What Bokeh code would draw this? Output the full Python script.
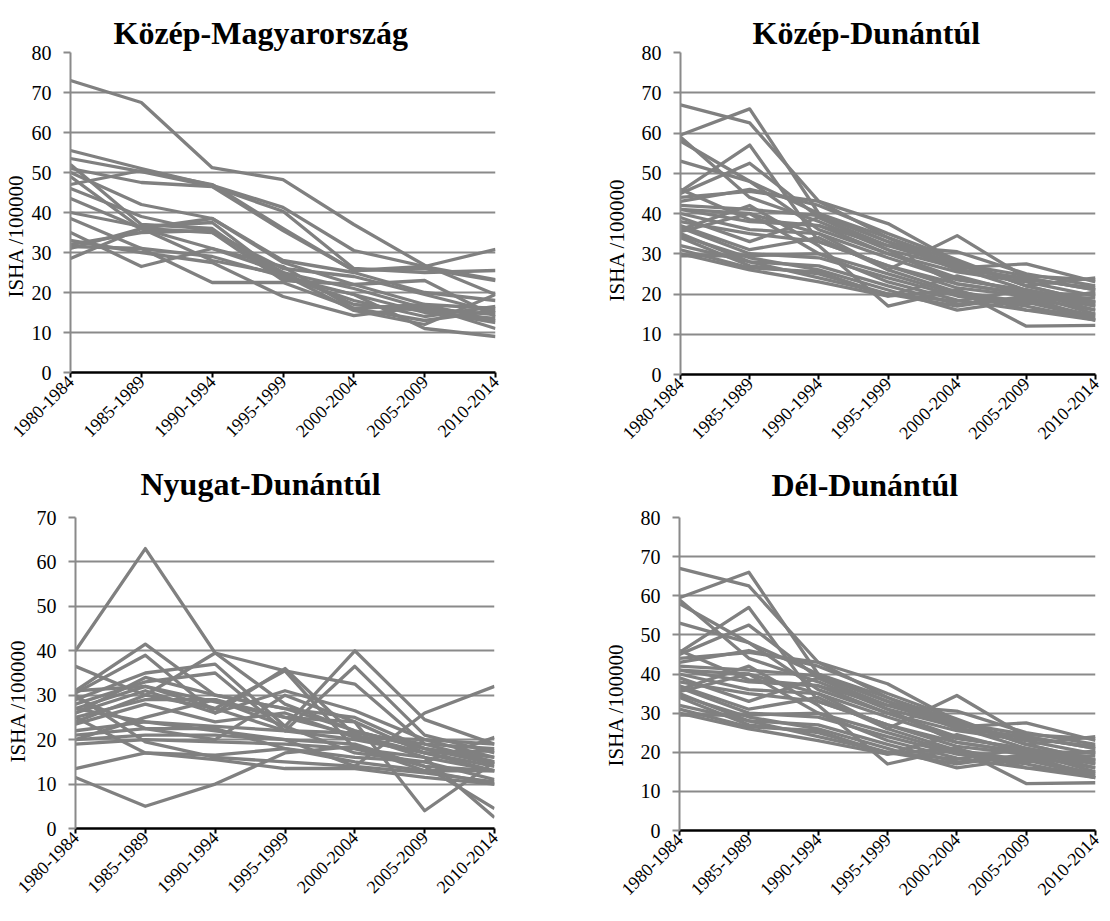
from math import pi
from bokeh.plotting import figure
from bokeh.layouts import column, row
from bokeh.models import Range1d, FixedTicker, Title, LinearAxis
from bokeh.embed import file_html
from bokeh.resources import INLINE

periods = ["1980-1984", "1985-1989", "1990-1994", "1995-1999",
           "2000-2004", "2005-2009", "2010-2014"]

kozep_magyarorszag = [
    [73.0, 67.5, 51.2, 48.2, 37.0, 26.8, 19.5],
    [55.5, 51.0, 46.8, 41.3, 30.5, 26.5, 23.2],
    [53.5, 50.2, 46.5, 40.3, 26.0, 25.0, 25.5],
    [47.0, 50.5, 47.0, 36.0, 25.5, 26.0, 23.0],
    [51.0, 47.5, 46.5, 35.5, 25.5, 26.5, 30.8],
    [50.0, 42.0, 38.5, 28.0, 25.0, 20.0, 18.0],
    [31.0, 36.0, 38.5, 27.5, 22.0, 17.0, 16.0],
    [28.5, 36.0, 35.0, 26.0, 24.0, 19.5, 15.0],
    [32.0, 35.0, 35.5, 25.0, 21.0, 16.0, 14.5],
    [40.0, 36.5, 37.5, 24.0, 19.5, 15.0, 13.5],
    [43.5, 36.0, 31.0, 25.0, 17.0, 15.5, 12.5],
    [38.5, 31.0, 29.0, 24.0, 18.0, 14.0, 16.5],
    [35.0, 26.5, 31.0, 26.5, 16.0, 17.0, 13.0],
    [31.5, 31.0, 22.5, 22.5, 16.0, 13.0, 15.5],
    [33.0, 30.0, 27.5, 19.0, 14.2, 16.5, 11.0],
    [52.0, 37.0, 36.0, 23.5, 19.5, 11.0, 9.0],
    [46.0, 39.0, 35.0, 23.0, 22.0, 23.0, 14.0],
    [49.0, 36.0, 28.0, 24.5, 15.5, 12.0, 19.5],
]

kozep_dunantul = [
    [67.0, 62.5, 43.0, 37.5, 28.0, 22.0, 18.0],
    [59.5, 66.0, 40.0, 33.0, 26.0, 24.0, 21.0],
    [59.0, 44.0, 38.0, 31.0, 26.5, 21.0, 17.0],
    [58.0, 48.0, 40.0, 34.0, 28.0, 22.0, 18.0],
    [53.0, 48.0, 36.0, 30.0, 24.0, 20.5, 16.0],
    [45.5, 57.0, 33.0, 27.0, 22.5, 20.0, 15.0],
    [45.0, 52.5, 39.0, 32.0, 30.5, 25.0, 22.0],
    [44.0, 45.5, 43.0, 34.0, 26.5, 27.5, 23.0],
    [41.0, 40.0, 35.0, 26.0, 34.5, 24.0, 21.0],
    [43.0, 46.0, 42.0, 35.0, 28.5, 22.0, 24.0],
    [42.0, 41.0, 39.5, 33.0, 27.5, 24.5, 23.5],
    [41.0, 38.0, 37.0, 30.0, 25.5, 23.0, 19.5],
    [40.0, 36.0, 35.0, 29.0, 23.5, 21.0, 17.5],
    [39.0, 33.0, 39.0, 31.0, 22.5, 20.0, 20.0],
    [38.0, 35.0, 33.0, 27.0, 21.5, 19.5, 19.0],
    [37.0, 31.0, 34.0, 26.0, 20.5, 18.0, 14.0],
    [36.5, 30.0, 29.0, 24.0, 19.5, 17.0, 13.5],
    [36.0, 42.0, 32.0, 17.0, 21.0, 12.0, 12.2],
    [35.5, 40.0, 30.0, 23.0, 18.5, 16.0, 15.0],
    [35.0, 28.0, 27.0, 22.0, 17.5, 19.0, 16.0],
    [34.5, 29.0, 26.0, 21.0, 16.0, 18.5, 14.5],
    [34.0, 27.0, 25.0, 20.0, 17.0, 19.5, 13.5],
    [32.0, 28.0, 24.0, 20.0, 18.2, 21.0, 18.0],
    [31.0, 26.5, 25.5, 19.5, 24.5, 20.0, 17.0],
    [30.0, 26.0, 23.0, 19.5, 21.0, 16.0, 13.5],
    [29.5, 29.5, 30.0, 25.0, 20.0, 17.5, 20.5],
    [46.0, 38.5, 37.0, 32.0, 27.0, 23.5, 21.5],
]

nyugat_dunantul = [
    [40.0, 63.0, 39.5, 28.0, 22.0, 18.0, 15.0],
    [36.5, 30.0, 27.0, 22.0, 20.0, 17.0, 14.0],
    [31.0, 41.5, 30.0, 27.0, 25.0, 18.0, 16.0],
    [30.5, 39.0, 26.0, 36.0, 21.0, 16.0, 13.0],
    [24.0, 30.0, 39.5, 35.5, 18.0, 14.0, 13.0],
    [29.0, 35.0, 37.0, 23.0, 40.0, 24.5, 19.0],
    [28.0, 33.0, 35.0, 22.0, 36.5, 21.0, 17.0],
    [27.0, 32.0, 27.0, 35.5, 32.5, 19.0, 15.0],
    [26.0, 31.0, 26.0, 31.0, 26.5, 20.0, 16.0],
    [25.0, 29.0, 29.0, 25.0, 24.0, 17.0, 13.0],
    [22.0, 24.0, 22.0, 20.0, 14.0, 26.0, 32.0],
    [21.0, 22.5, 20.0, 30.0, 24.0, 4.0, 15.0],
    [20.0, 21.0, 21.0, 20.0, 19.0, 14.0, 4.5],
    [19.0, 20.0, 19.5, 19.0, 18.0, 16.0, 2.5],
    [13.5, 17.0, 16.5, 18.0, 16.0, 15.0, 11.0],
    [11.5, 5.0, 10.0, 17.0, 18.5, 13.0, 10.0],
    [30.0, 19.5, 16.0, 15.0, 14.0, 12.5, 10.5],
    [25.0, 17.0, 15.5, 13.5, 13.5, 11.5, 10.0],
    [29.5, 22.5, 22.5, 18.0, 15.0, 13.0, 13.0],
    [31.0, 32.0, 28.5, 25.0, 21.0, 17.0, 17.5],
    [27.0, 24.0, 23.0, 22.0, 21.5, 19.0, 18.0],
    [23.5, 28.0, 24.0, 26.0, 20.5, 20.0, 19.0],
    [26.0, 34.0, 30.0, 27.0, 22.0, 18.0, 14.5],
    [20.0, 25.0, 29.0, 23.0, 17.0, 15.0, 20.5],
]

# The Dél-Dunántúl panel shows the same curves as Közép-Dunántúl
del_dunantul = kozep_dunantul

y_label = "ISHA /100000"

FONT = "Liberation Serif"
LINE_COLOR = "#808080"
GRID_COLOR = "#8a8a8a"


def panel(title, series, ymax, fw, fh, bl, br, bt, bb,
          t_off, t_stand, l_off, l_stand, spacer=0):
    p = figure(frame_width=fw, frame_height=fh,
               min_border_left=bl, min_border_right=br,
               min_border_top=bt, min_border_bottom=bb,
               x_range=Range1d(0, len(periods) - 1), y_range=Range1d(0, ymax),
               output_backend="svg", toolbar_location=None)
    xs = list(range(len(periods)))
    for s in series:
        p.line(xs, s, line_color=LINE_COLOR, line_width=3.3, line_join="round")

    p.outline_line_color = None
    p.background_fill_color = "white"
    p.border_fill_color = "white"
    p.xgrid.grid_line_color = None
    p.ygrid.grid_line_color = GRID_COLOR
    p.ygrid.grid_line_width = 2

    xa = p.xaxis[0]
    xa.ticker = FixedTicker(ticks=xs)
    xa.major_label_overrides = {i: lab for i, lab in enumerate(periods)}
    xa.major_label_orientation = pi / 4
    xa.major_label_text_font = FONT
    xa.major_label_text_font_size = "18px"
    xa.major_label_text_color = "black"
    xa.major_label_standoff = 1
    xa.axis_line_color = "black"
    xa.axis_line_width = 2.5
    xa.major_tick_line_color = "black"
    xa.major_tick_line_width = 2
    xa.major_tick_out = 5
    xa.major_tick_in = 0
    xa.minor_tick_line_color = None

    ya = p.yaxis[0]
    ya.ticker = FixedTicker(ticks=list(range(0, ymax + 1, 10)))
    ya.major_label_text_font = FONT
    ya.major_label_text_font_size = "20px"
    ya.major_label_text_color = "black"
    ya.major_label_standoff = 12
    ya.axis_line_color = GRID_COLOR
    ya.axis_line_width = 2
    ya.major_tick_line_color = GRID_COLOR
    ya.major_tick_line_width = 2
    ya.major_tick_out = 7
    ya.major_tick_in = 0
    ya.minor_tick_line_color = None

    if spacer:
        # invisible empty axis that only reserves room between title and frame
        p.add_layout(LinearAxis(ticker=FixedTicker(ticks=[]),
                                major_tick_out=spacer, major_tick_in=0,
                                major_label_standoff=0,
                                axis_line_color=None,
                                major_tick_line_color=None,
                                minor_tick_line_color=None), "above")
    p.add_layout(Title(text=title, align="left", offset=t_off,
                       vertical_align="top", standoff=t_stand,
                       text_font=FONT, text_font_size="32px",
                       text_font_style="bold", text_color="black"), "above")
    p.add_layout(Title(text=y_label, align="left", offset=l_off,
                       vertical_align="bottom", standoff=l_stand,
                       text_font=FONT, text_font_size="21px",
                       text_font_style="normal", text_color="black"), "left")
    return p


p1 = panel("Közép-Magyarország", kozep_magyarorszag, 80,
           425, 320, 67, 55, 52, 80, 43, 0, 75, 2, spacer=14)
p2 = panel("Közép-Dunántúl", kozep_dunantul, 80,
           415, 322, 130, 10, 52, 78, 72, 0, 73, 20, spacer=14)
p3 = panel("Nyugat-Dunántúl", nyugat_dunantul, 70,
           419, 311, 72, 56, 65, 76, 65, 27, 66, 7)
p4 = panel("Dél-Dunántúl", del_dunantul, 80,
           416, 313, 129, 10, 63, 76, 92, 25, 64, 19)

layout = column(row(p1, p2), row(p3, p4))

with open("out.html", "w") as f:
    f.write(file_html(layout, INLINE))
